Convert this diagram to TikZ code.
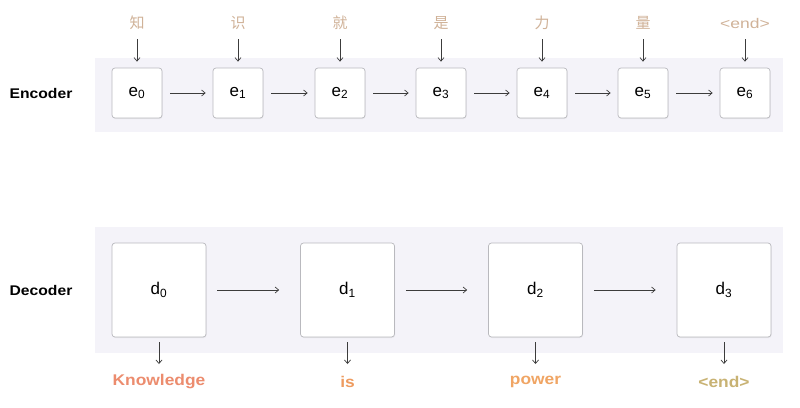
\documentclass[tikz,border=0pt]{standalone}
\usepackage{fontspec}
\setmainfont{Liberation Sans}
\newfontfamily\labfont[FakeStretch=1.12]{Liberation Sans}
\newfontfamily\endfont[FakeStretch=1.25]{Liberation Sans}
\newfontfamily\cjk{Noto Sans CJK SC}
\usetikzlibrary{arrows.meta,shadows}
\definecolor{bandc}{RGB}{244,243,249}
\definecolor{boxline}{RGB}{185,185,190}
\definecolor{cjkc}{RGB}{208,178,152}
\definecolor{knowc}{RGB}{236,140,110}
\definecolor{isc}{RGB}{238,155,95}
\definecolor{powc}{RGB}{240,165,100}
\definecolor{endc}{RGB}{200,178,115}
\definecolor{arrc}{RGB}{60,60,60}
\begin{document}
\begin{tikzpicture}[x=1pt,y=-1pt,
  band/.style={fill=bandc,draw=none},
  ebox/.style={draw=boxline,fill=white,rounded corners=3pt,minimum width=50pt,minimum height=50pt,inner sep=0pt,line width=0.7pt,
     drop shadow={opacity=0.12,shadow xshift=0.6pt,shadow yshift=-1pt},font=\fontsize{17}{17}\selectfont},
  dbox/.style={ebox,minimum width=94pt,minimum height=94pt},
  sidelab/.style={font=\labfont\bfseries\fontsize{14}{14}\selectfont,text=black},
  cjklab/.style={font=\cjk\fontsize{15}{15}\selectfont,inner sep=1pt},
  outlab/.style={font=\labfont\bfseries\fontsize{15.5}{15.5}\selectfont,inner sep=1pt},
  arr/.style={draw=arrc,line width=0.7pt,-{Straight Barb[length=3.5pt,width=6pt]}}
]
\useasboundingbox (0,0) rectangle (800,407);
\fill[white] (0,0) rectangle (800,407);
% bands
\path[band] (95,58) rectangle (783,132);
\path[band] (95,227) rectangle (783,353);
% side labels
\node[sidelab] (enc) at (41,93) {Encoder};
\node[sidelab] (dec) at (41,290) {Decoder};
% encoder boxes
\foreach \i/\x in {0/137,1/238,2/340,3/441,4/542,5/643,6/745}{
  \node[ebox] (e\i) at (\x,93) {e\textsubscript{\i}};
}
% input tokens
\node[cjklab,text=cjkc] (c0) at (137,23) {知};
\node[cjklab,text=cjkc] (c1) at (238,23) {识};
\node[cjklab,text=cjkc] (c2) at (340,23) {就};
\node[cjklab,text=cjkc] (c3) at (441,23) {是};
\node[cjklab,text=cjkc] (c4) at (542,23) {力};
\node[cjklab,text=cjkc] (c5) at (643,23) {量};
\node[cjklab,text=cjkc,font=\endfont\fontsize{14}{14}\selectfont] (c6) at (745,23) {<end>};
\foreach \i in {0,...,6}{
  \draw[arr] (e\i.north |- 0,39) -- ([yshift=6pt]e\i.north);
}
\foreach \i/\j in {0/1,1/2,2/3,3/4,4/5,5/6}{
  \draw[arr,shorten <=8pt,shorten >=7pt] (e\i.east) -- (e\j.west);
}
% decoder boxes
\foreach \i/\x in {0/159,1/347.5,2/535.5,3/724}{
  \node[dbox] (d\i) at (\x,290) {d\textsubscript{\i}};
}
\foreach \i/\j in {0/1,1/2,2/3}{
  \draw[arr,shorten <=11pt,shorten >=21pt] (d\i.east) -- (d\j.west);
}
% outputs
\node[outlab,text=knowc] (o0) at (159,382) {Knowledge};
\node[outlab,text=isc] (o1) at (347.5,382) {is};
\node[outlab,text=powc] (o2) at (535.5,382) {power};
\node[outlab,text=endc] (o3) at (724,382) {<end>};
\foreach \i in {0,...,3}{
  \draw[arr] ([yshift=-5pt]d\i.south) -- (d\i.south |- 0,364);
}
\end{tikzpicture}
\end{document}
